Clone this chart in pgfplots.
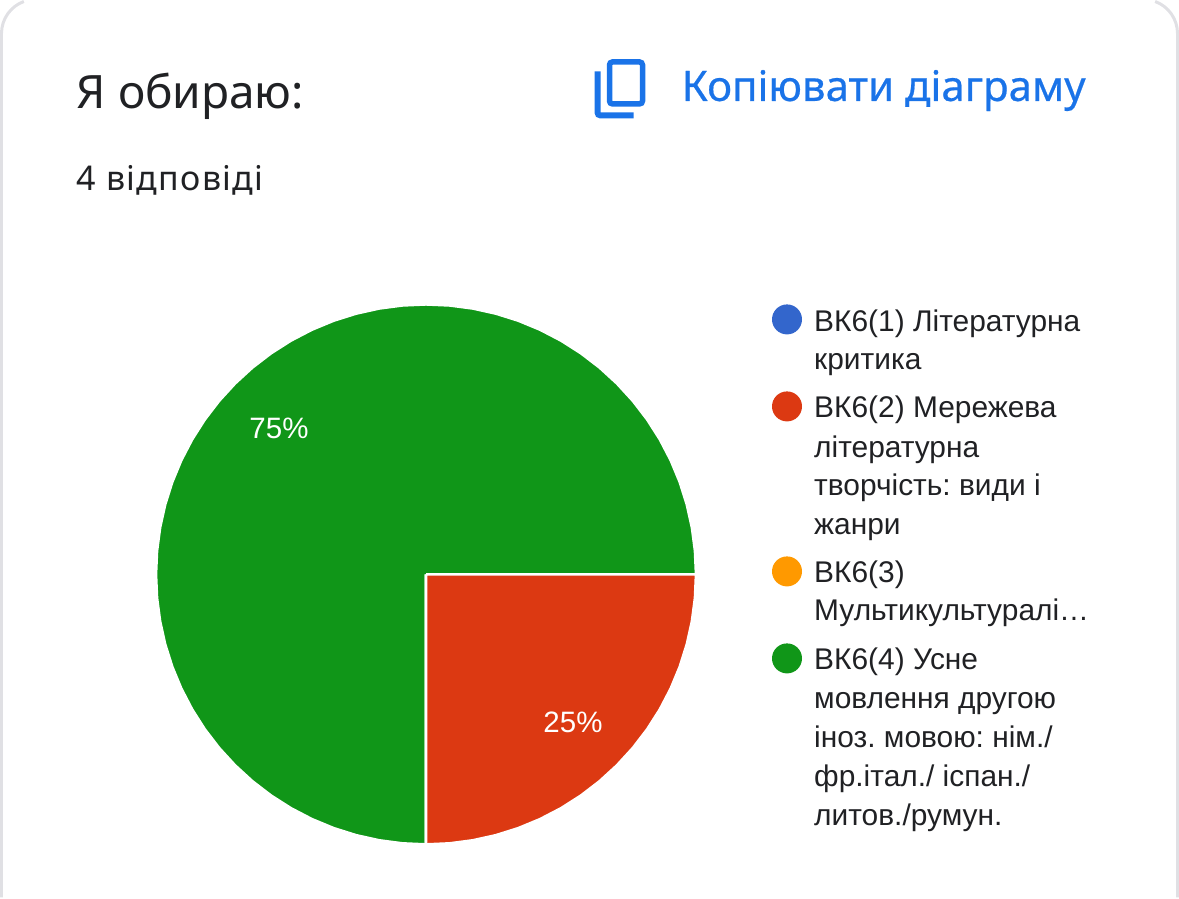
\documentclass[border=0pt]{standalone}
\usepackage{fontspec}
\setmainfont{Liberation Sans}
\newfontfamily\headfont{Noto Sans}
\newfontfamily\subfont[LetterSpace=3.8]{Noto Sans}
\newfontfamily\linkfont[FakeBold=0.5]{Noto Sans}
\usepackage{pgfplots}
\pgfplotsset{compat=1.18}
\definecolor{gblue}{HTML}{3366CC}
\definecolor{gred}{HTML}{DC3912}
\definecolor{gorange}{HTML}{FF9900}
\definecolor{ggreen}{HTML}{109618}
\definecolor{ink}{HTML}{202124}
\definecolor{link}{HTML}{1A73E8}
\definecolor{edge}{HTML}{E0E0E4}
\newcommand{\lab}[3]{\node[anchor=base west,inner sep=0pt,text=ink,font=\frenchspacing\fontsize{29.9}{30}\selectfont] at (axis cs:{#1-426},{574-#2}) {#3};}
\begin{document}
\begin{tikzpicture}
\begin{axis}[hide axis,scale only axis,width=1179pt,height=896pt,
  xmin=-425.5,xmax=753.5,ymin=-323,ymax=573,clip=false]
% slices: 25% and 75%
\addplot[fill=ggreen,draw=white,line width=2.6pt,line join=miter,data cs=polar] coordinates {
(0,0)(0,270)(5,270)(10,270)(15,270)(20,270)(25,270)(30,270)(35,270)(40,270)(45,270)(50,270)(55,270)(60,270)(65,270)(70,270)(75,270)(80,270)(85,270)(90,270)(95,270)(100,270)(105,270)(110,270)(115,270)(120,270)(125,270)(130,270)(135,270)(140,270)(145,270)(150,270)(155,270)(160,270)(165,270)(170,270)(175,270)(180,270)(185,270)(190,270)(195,270)(200,270)(205,270)(210,270)(215,270)(220,270)(225,270)(230,270)(235,270)(240,270)(245,270)(250,270)(255,270)(260,270)(265,270)(270,270)(0,0)};
\addplot[fill=gred,draw=white,line width=2.6pt,line join=miter,data cs=polar] coordinates {
(0,0)(-90,270)(-85,270)(-80,270)(-75,270)(-70,270)(-65,270)(-60,270)(-55,270)(-50,270)(-45,270)(-40,270)(-35,270)(-30,270)(-25,270)(-20,270)(-15,270)(-10,270)(-5,270)(0,270)(0,0)};
% legend markers
\addplot[only marks,mark=*,mark size=15pt,draw=none,fill=gblue,mark options={draw=none,fill=gblue,draw opacity=0}] coordinates {(361,255)};
\addplot[only marks,mark=*,mark size=15pt,draw=none,fill=gred,mark options={draw=none,fill=gred,draw opacity=0}] coordinates {(361,168)};
\addplot[only marks,mark=*,mark size=15pt,draw=none,fill=gorange,mark options={draw=none,fill=gorange,draw opacity=0}] coordinates {(361,3)};
\addplot[only marks,mark=*,mark size=15pt,draw=none,fill=ggreen,mark options={draw=none,fill=ggreen,draw opacity=0}] coordinates {(361,-84)};
% card edge
\draw[edge,line width=3pt] (axis cs:{1-425.5},{573-896}) -- (axis cs:{1-425.5},{573-32}) arc[start angle=180,end angle=110,radius=34pt];
\draw[edge,line width=3pt] (axis cs:{1177-425.5},{573-896}) -- (axis cs:{1177-425.5},{573-32}) arc[start angle=0,end angle=70,radius=34pt];
% slice labels
\node[text=white,font=\fontsize{29.5}{29.5}\selectfont] at (axis cs:{278.5-425.5},{574-427.5}) {75\%};
\node[text=white,font=\fontsize{29.5}{29.5}\selectfont] at (axis cs:{572.5-425.5},{574-721.5}) {25\%};
% header
\node[anchor=base west,inner sep=0pt,text=ink,font=\headfont\fontsize{46}{46}\selectfont] at (axis cs:{76-425.5},{573-107.5}) {Я обираю:};
\node[anchor=base west,inner sep=0pt,text=ink,font=\subfont\fontsize{34}{34}\selectfont] at (axis cs:{76-425.5},{573-189}) {4 відповіді};
\node[anchor=base west,inner sep=0pt,text=link,font=\linkfont\fontsize{42}{42}\selectfont] at (axis cs:{681-425.5},{573-99.5}) {Копіювати діаграму};
% icon
\draw[link,line width=5.5pt,rounded corners=3pt] (axis cs:{609-425.5},{573-60.5}) rectangle (axis cs:{642-425.5},{573-102.5});
\draw[link,line width=6pt,rounded corners=3pt] (axis cs:{597-425.5},{573-70}) -- (axis cs:{597-425.5},{573-114}) -- (axis cs:{633-425.5},{573-114});
% legend text
\lab{814}{331}{ВК6(1) Літературна}
\lab{814}{369}{критика}
\lab{814}{417}{ВК6(2) Мережева}
\lab{814}{457}{літературна}
\lab{814}{495}{творчість: види і}
\lab{814}{534}{жанри}
\lab{814}{582}{ВК6(3)}
\lab{814}{620}{Мультикультуралі…}
\lab{814}{669}{ВК6(4) Усне}
\lab{814}{708}{мовлення другою}
\lab{814}{747}{іноз. мовою: нім./}
\lab{814}{786}{фр.італ./ іспан./}
\lab{814}{825}{литов./румун.}
\end{axis}
\end{tikzpicture}
\end{document}
